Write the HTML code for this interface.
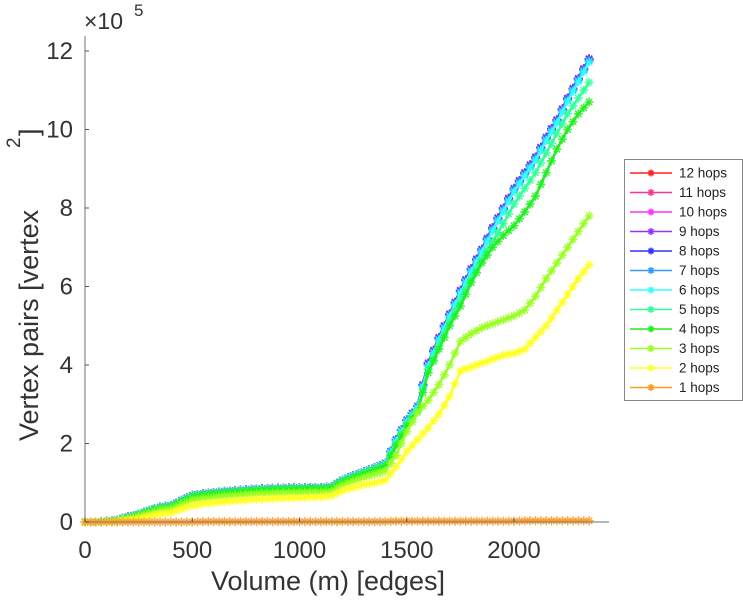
<!DOCTYPE html>
<html><head><meta charset="utf-8"><style>
body{margin:0;background:#fff;}
svg{display:block;font-family:"Liberation Sans",sans-serif;}
</style></head><body>
<svg id="chart" width="743" height="600" viewBox="0 0 743 600" xmlns="http://www.w3.org/2000/svg">
<g id="plot"></g>
<g id="axes"></g>
<g id="legend"></g>
</svg>
<script>
const xs = [0,50,100,150,200,250,300,350,400,450,500,550,600,650,700,750,800,850,900,950,1000,1050,1100,1150,1200,1250,1300,1350,1400,1450,1500,1550,1600,1650,1700,1750,1800,1850,1900,1950,2000,2050,2100,2150,2200,2250,2300,2350];
const hops9 = [0,0,0.02,0.05,0.13,0.2,0.3,0.38,0.42,0.55,0.68,0.72,0.75,0.78,0.8,0.82,0.84,0.85,0.86,0.87,0.87,0.88,0.88,0.9,1.07,1.18,1.28,1.38,1.5,2.1,2.6,2.95,4.05,4.7,5.3,5.9,6.45,6.95,7.5,8.0,8.5,8.9,9.3,9.8,10.25,10.8,11.3,11.8];
const hops8 = [0,0,0.02,0.05,0.13,0.2,0.3,0.38,0.42,0.55,0.68,0.72,0.75,0.78,0.8,0.82,0.84,0.85,0.86,0.87,0.87,0.88,0.88,0.9,1.07,1.18,1.28,1.38,1.5,2.1,2.6,2.95,4.02,4.68,5.28,5.88,6.43,6.93,7.48,7.98,8.48,8.88,9.28,9.78,10.23,10.78,11.28,11.78];
const hops7 = [0,0,0.02,0.05,0.13,0.2,0.3,0.38,0.42,0.55,0.68,0.72,0.75,0.78,0.8,0.82,0.84,0.85,0.86,0.87,0.87,0.88,0.88,0.9,1.07,1.18,1.28,1.38,1.5,2.1,2.6,2.95,4.0,4.66,5.26,5.86,6.41,6.91,7.46,7.96,8.46,8.86,9.26,9.76,10.21,10.76,11.26,11.76];
const hops6 = [0,0,0.02,0.05,0.12,0.2,0.3,0.37,0.41,0.54,0.67,0.71,0.74,0.77,0.79,0.81,0.83,0.84,0.85,0.86,0.86,0.87,0.87,0.89,1.06,1.17,1.27,1.37,1.48,2.05,2.55,2.9,3.98,4.64,5.24,5.84,6.38,6.88,7.42,7.92,8.42,8.82,9.22,9.72,10.17,10.72,11.22,11.72];
const hops5 = [0,0,0.02,0.05,0.12,0.19,0.29,0.36,0.4,0.53,0.66,0.7,0.73,0.76,0.78,0.8,0.82,0.83,0.84,0.85,0.85,0.86,0.86,0.88,1.05,1.15,1.25,1.35,1.45,2.0,2.5,2.85,3.9,4.5,5.1,5.65,6.2,6.7,7.15,7.6,8.1,8.5,8.9,9.4,9.9,10.4,10.8,11.2];
const hops4 = [0,0,0.02,0.04,0.11,0.18,0.28,0.35,0.39,0.52,0.65,0.69,0.72,0.75,0.77,0.79,0.81,0.82,0.83,0.84,0.84,0.85,0.85,0.87,1.03,1.13,1.23,1.33,1.43,1.95,2.45,2.8,3.8,4.4,5.0,5.5,6.1,6.6,7.0,7.3,7.55,7.9,8.3,8.9,9.5,10.0,10.4,10.7];
const hops3 = [0,0,0.01,0.03,0.08,0.14,0.22,0.3,0.33,0.45,0.56,0.6,0.63,0.66,0.68,0.7,0.72,0.73,0.74,0.75,0.75,0.76,0.76,0.78,0.94,1.04,1.13,1.22,1.3,1.7,2.3,2.8,3.1,3.5,4.0,4.6,4.8,4.95,5.05,5.15,5.25,5.4,5.75,6.2,6.6,7.0,7.4,7.8];
const hops2 = [0,0,0,0.02,0.05,0.09,0.15,0.2,0.24,0.33,0.42,0.46,0.49,0.52,0.54,0.56,0.58,0.59,0.6,0.61,0.62,0.63,0.64,0.67,0.8,0.88,0.95,1.0,1.07,1.4,1.8,2.1,2.4,2.75,3.2,3.85,3.95,4.05,4.15,4.25,4.3,4.4,4.7,5.0,5.4,5.8,6.2,6.55];
const hops1 = [0,0,0,0,0,0,0,0,0,0,0,0.01,0.01,0.01,0.01,0.01,0.01,0.01,0.01,0.01,0.01,0.01,0.01,0.01,0.01,0.01,0.01,0.01,0.01,0.02,0.02,0.02,0.02,0.02,0.02,0.02,0.02,0.02,0.02,0.02,0.02,0.03,0.03,0.03,0.03,0.03,0.03,0.03];
const hops10 = hops9.slice(), hops11 = hops9.slice(), hops12 = hops9.slice();
const seriesLabels = ["12 hops","11 hops","10 hops","9 hops","8 hops","7 hops","6 hops","5 hops","4 hops","3 hops","2 hops","1 hops"];
const seriesValues = [hops12,hops11,hops10,hops9,hops8,hops7,hops6,hops5,hops4,hops3,hops2,hops1];
const seriesColors = ["#ff2020","#ff3399","#ff33ff","#9933ff","#3333ff","#3399ff","#33ffff","#33ff99","#22ee22","#99ff22","#ffff22","#ff9922"];
const xTicks = [0,500,1000,1500,2000];
const yTicks = [0,2,4,6,8,10,12];

const NS="http://www.w3.org/2000/svg";
const X0=85, XS=0.2145, Y0=522, YS=39.25;
const xScale=v=>X0+v*XS, yScale=v=>Y0-v*YS;
function mk(tag,attrs,parent){const e=document.createElementNS(NS,tag);for(const k in attrs)e.setAttribute(k,attrs[k]);parent.appendChild(e);return e;}
function star(x,y,r){const d=r*0.7;return `M${x} ${y-r}V${y+r}M${x-d} ${y-d}L${x+d} ${y+d}M${x-d} ${y+d}L${x+d} ${y-d}M${x-r} ${y}H${x+r}`;}
const plot=document.getElementById('plot'), axes=document.getElementById('axes'), legend=document.getElementById('legend');

seriesValues.forEach((vals,i)=>{
  const g=mk('g',{},plot);
  
  
  let d='', m='';
  vals.forEach((v,j)=>{
    const x=+xScale(xs[j]).toFixed(1),y=+yScale(v).toFixed(1);
    d+=(j?'L':'M')+x+' '+y;
    m+=star(x,y,4.5);
    if(j<vals.length-1){const x2=(x+xScale(xs[j+1]))/2,y2=(y+yScale(vals[j+1]))/2;m+=star(+x2.toFixed(1),+y2.toFixed(1),4.5);}
  });
  const l=mk('path',{d:d,fill:'none',stroke:seriesColors[i],'stroke-width':2.5},g);
  
  
  const mp=mk('path',{d:m,fill:'none',stroke:seriesColors[i],'stroke-width':1.6,opacity:0.85},g);
  
  
});

const ax=mk('path',{d:`M${X0} 36V${Y0}H609`,fill:'none',stroke:'#8a8a8a','stroke-width':1.2},axes);


xTicks.forEach(t=>{
  const x=xScale(t);
  mk('path',{d:`M${x} ${Y0}v-4`,stroke:'#555','stroke-width':1},axes);
  const tx=mk('text',{x:x,y:Y0+36,'text-anchor':'middle','font-size':24,fill:'#333'},axes);
  tx.textContent=t;
  
  
});
yTicks.forEach(t=>{
  const y=yScale(t);
  mk('path',{d:`M${X0} ${y}h4`,stroke:'#555','stroke-width':1},axes);
  const tx=mk('text',{x:X0-12,y:y+8,'text-anchor':'end','font-size':24,fill:'#333'},axes);
  tx.textContent=t;
  
  
});
const ex=mk('text',{x:84,y:29,'font-size':23,fill:'#333'},axes);
ex.textContent='×10';


const ex2=mk('text',{x:134,y:16,'font-size':17,fill:'#333'},axes);
ex2.textContent='5';


const xl=mk('text',{x:328,y:590,'text-anchor':'middle','font-size':27,fill:'#333'},axes);
xl.textContent='Volume (m) [edges]';


const yl=mk('text',{x:0,y:0,'font-size':27,fill:'#333',transform:'translate(38,441) rotate(-90)'},axes);
yl.textContent='Vertex pairs [vertex';


const yl2=mk('text',{x:0,y:0,'font-size':19,fill:'#333',transform:'translate(20,148) rotate(-90)'},axes);
yl2.textContent='2';


const yl3=mk('text',{x:0,y:0,'font-size':27,fill:'#333',transform:'translate(38,136) rotate(-90)'},axes);
yl3.textContent=']';



const box=mk('rect',{x:624.5,y:159.5,width:118,height:241,fill:'#fff',stroke:'#888','stroke-width':1},legend);


seriesLabels.forEach((lab,i)=>{
  const y=173+i*19.5;
  const g=mk('g',{},legend);
  
  
  mk('path',{d:`M630 ${y}H672`,stroke:seriesColors[i],'stroke-width':1.5},g);
  mk('path',{d:star(651,y,3.5),stroke:seriesColors[i],'stroke-width':1.5,fill:'none'},g);
  const t=mk('text',{x:679,y:y+4.5,'font-size':13.5,fill:'#222'},g);
  t.textContent=lab;
});
</script>
</body></html>
